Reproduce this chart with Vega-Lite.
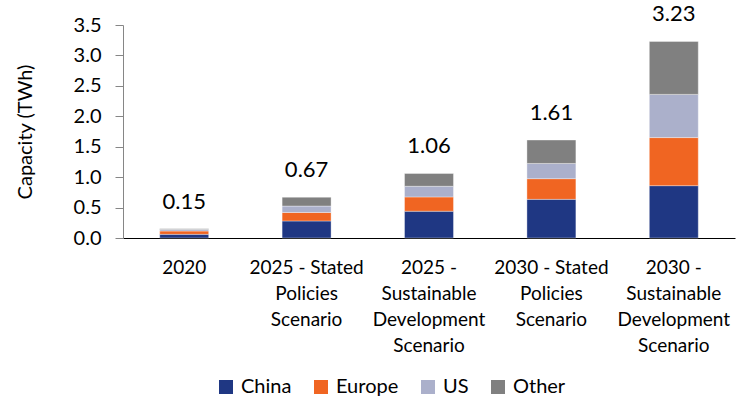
{
  "$schema": "https://vega.github.io/schema/vega-lite/v6.json",
  "autosize": {"type": "none"},
  "padding": {"left": 123, "top": 25, "right": 1, "bottom": 160},
  "width": 612,
  "height": 213,
  "config": {
    "view": {"stroke": null},
    "font": "Lato",
    "text": {"font": "Lato"},
    "axisY": {
      "title": "Capacity (TWh)",
      "titleFont": "Lato",
      "titleFontSize": 20,
      "titleFontWeight": "normal",
      "titleColor": "#000000",
      "titlePadding": 38,
      "labelOverlap": false,
      "labelFont": "Lato",
      "labelFontSize": 20,
      "labelColor": "#000000",
      "labelPadding": 14,
      "tickSize": 8,
      "tickColor": "#868686",
      "domainColor": "#868686",
      "grid": false
    }
  },
  "data": {
    "values": [
      {"scenario": "2020", "region": "China", "capacity": 0.06},
      {"scenario": "2020", "region": "Europe", "capacity": 0.055},
      {"scenario": "2020", "region": "US", "capacity": 0.025},
      {"scenario": "2020", "region": "Other", "capacity": 0.01},
      {"scenario": "2025 - Stated|Policies|Scenario", "region": "China", "capacity": 0.28},
      {"scenario": "2025 - Stated|Policies|Scenario", "region": "Europe", "capacity": 0.14},
      {"scenario": "2025 - Stated|Policies|Scenario", "region": "US", "capacity": 0.105},
      {"scenario": "2025 - Stated|Policies|Scenario", "region": "Other", "capacity": 0.145},
      {"scenario": "2025 -|Sustainable|Development|Scenario", "region": "China", "capacity": 0.44},
      {"scenario": "2025 -|Sustainable|Development|Scenario", "region": "Europe", "capacity": 0.235},
      {"scenario": "2025 -|Sustainable|Development|Scenario", "region": "US", "capacity": 0.175},
      {"scenario": "2025 -|Sustainable|Development|Scenario", "region": "Other", "capacity": 0.21},
      {"scenario": "2030 - Stated|Policies|Scenario", "region": "China", "capacity": 0.635},
      {"scenario": "2030 - Stated|Policies|Scenario", "region": "Europe", "capacity": 0.34},
      {"scenario": "2030 - Stated|Policies|Scenario", "region": "US", "capacity": 0.25},
      {"scenario": "2030 - Stated|Policies|Scenario", "region": "Other", "capacity": 0.385},
      {"scenario": "2030 -|Sustainable|Development|Scenario", "region": "China", "capacity": 0.86},
      {"scenario": "2030 -|Sustainable|Development|Scenario", "region": "Europe", "capacity": 0.79},
      {"scenario": "2030 -|Sustainable|Development|Scenario", "region": "US", "capacity": 0.71},
      {"scenario": "2030 -|Sustainable|Development|Scenario", "region": "Other", "capacity": 0.87}
    ]
  },
  "encoding": {
    "x": {
      "field": "scenario",
      "type": "nominal",
      "sort": null,
      "scale": {"paddingInner": 0.6, "paddingOuter": 0.3},
      "axis": {
        "title": null,
        "labelAngle": 0,
        "labelExpr": "split(datum.label, '|')",
        "labelFont": "Lato",
        "labelFontSize": 19,
        "labelLineHeight": 26,
        "labelColor": "#000000",
        "labelPadding": 20,
        "ticks": false,
        "domainColor": "#000000",
        "domainWidth": 1.2,
        "labelBaseline": "top"
      }
    }
  },
  "layer": [
    {
      "transform": [
        {"calculate": "indexof(['China','Europe','US','Other'], datum.region)", "as": "stackOrder"}
      ],
      "mark": {"type": "bar", "stroke": "#ffffff", "strokeWidth": 0.6, "strokeOpacity": 0.6},
      "encoding": {
        "y": {
          "field": "capacity",
          "type": "quantitative",
          "stack": "zero",
          "scale": {"domain": [0, 3.5], "nice": false},
          "axis": {"title": "Capacity (TWh)", "values": [0, 0.5, 1, 1.5, 2, 2.5, 3, 3.5], "format": ".1f"}
        },
        "order": {"field": "stackOrder", "type": "quantitative", "sort": "ascending"},
        "color": {
          "field": "region",
          "type": "nominal",
          "sort": ["China", "Europe", "US", "Other"],
          "scale": {
            "domain": ["China", "Europe", "US", "Other"],
            "range": ["#1F3783", "#F06522", "#ABB0CB", "#808080"]
          },
          "legend": {
            "title": null,
            "orient": "none",
            "direction": "horizontal",
            "legendX": 93,
            "legendY": 352,
            "symbolType": "square",
            "symbolSize": 196,
            "symbolStrokeWidth": 0,
            "labelFont": "Lato",
            "labelFontSize": 20,
            "labelColor": "#000000",
            "labelOffset": 5,
            "columnPadding": 19
          }
        }
      }
    },
    {
      "mark": {"type": "text", "baseline": "bottom", "dy": -15, "fontSize": 22, "font": "Lato", "color": "#000000"},
      "encoding": {
        "y": {
          "field": "capacity",
          "type": "quantitative",
          "aggregate": "sum",
          "axis": {"title": "Capacity (TWh)", "values": [0, 0.5, 1, 1.5, 2, 2.5, 3, 3.5], "format": ".1f"}
        },
        "text": {"field": "capacity", "type": "quantitative", "aggregate": "sum", "format": ".2f"}
      }
    }
  ]
}
